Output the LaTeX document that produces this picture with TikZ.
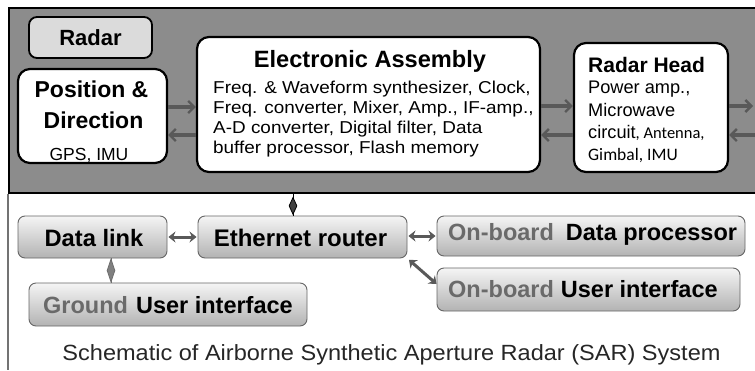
\documentclass[tikz,border=0pt]{standalone}
\usepackage{fontspec}
\setmainfont{Liberation Sans}
\newfontfamily\calfont{Carlito}
\newfontfamily\widefont[FakeStretch=1.1]{Liberation Sans}
\newfontfamily\capfont[FakeStretch=1.07]{Liberation Sans}
\usetikzlibrary{arrows.meta,shapes.geometric}
\definecolor{panelgray}{HTML}{8C8C8C}
\definecolor{arrgray}{HTML}{595959}
\definecolor{boardgray}{HTML}{6A6A6A}
\definecolor{diagray}{HTML}{6E6E6E}
\begin{document}
\begin{tikzpicture}[x=1pt,y=-1pt,
  wbox/.style={draw=black,line width=2.2pt,fill=white,rounded corners=12pt,inner sep=0pt},
  gbox/.style={draw=black!60,line width=0.9pt,top color=black!4,bottom color=black!30,rounded corners=7pt,inner sep=0pt},
  txt/.style={inner sep=0pt,anchor=base west},
  ctxt/.style={inner sep=0pt,anchor=base},
  pairarr/.style={draw=arrgray,line width=3.4pt,-{Straight Barb[length=6pt,width=12pt,line width=2.4pt]}},
  dbl/.style={draw=arrgray,line width=3pt,{Stealth[length=7pt,width=11pt]}-{Stealth[length=7pt,width=11pt]}},
  diamk/.style={diamond,inner sep=0pt,minimum width=8pt,line width=0.8pt},
  hbold/.style={font=\bfseries\fontsize{#1}{#1}\selectfont},
  body/.style={font=\fontsize{#1}{#1}\selectfont}
]
\useasboundingbox (0,0) rectangle (755,370);
\fill[white] (0,0) rectangle (755,370);

% panel
\node[draw=black,line width=2pt,fill=panelgray,minimum width=751pt,minimum height=185pt,inner sep=0pt] (panel) at (384.5,100.5) {};
\draw[black!55,line width=1.2pt] (panel.south west) -- (panel.south west |- 0,370);

% Radar label box
\node[draw=black,line width=1.8pt,fill=black!14,rounded corners=8pt,minimum width=123pt,minimum height=41pt,inner sep=0pt] (radar) at (90.5,37.5) {};
\node[ctxt,hbold=22] (radart) at (90.5,45) {Radar};

% Position & Direction
\node[wbox,minimum width=149pt,minimum height=94pt] (pos) at (92.5,116) {};
\node[ctxt,hbold=23] (pos1) at (91.5,97) {Position \&};
\node[ctxt,hbold=23] (pos2) at (93.5,128) {Direction};
\node[ctxt,body=17.5] (pos3) at (89,160) {GPS, IMU};

% Electronic Assembly
\node[wbox,minimum width=343pt,minimum height=135pt] (ea) at (368.5,104.5) {};
\node[ctxt,hbold=23.6] (eat) at (370,67) {Electronic Assembly};
\node[txt,font=\widefont\fontsize{17.2}{17}\selectfont] (ea1) at (213,93) {Freq. \& Waveform synthesizer, Clock,};
\node[txt,font=\widefont\fontsize{17.2}{17}\selectfont] (ea2) at (213,113) {Freq. converter, Mixer, Amp., IF-amp.,};
\node[txt,font=\widefont\fontsize{17.2}{17}\selectfont] (ea3) at (213,133) {A-D converter, Digital filter, Data};
\node[txt,font=\widefont\fontsize{17.2}{17}\selectfont] (ea4) at (213,153) {buffer processor, Flash memory};

% Radar Head
\node[wbox,minimum width=154pt,minimum height=129pt] (rh) at (651,107.5) {};
\node[txt,hbold=21] (rht) at (588,72) {Radar Head};
\node[txt,body=18.2] (rh1) at (588,93) {Power amp.,};
\node[txt,body=18.2] (rh2) at (588,116) {Microwave};
\node[txt] (rh3) at (588,138) {{\fontsize{18.2}{18}\selectfont circuit}{\calfont\fontsize{16.5}{18}\selectfont , Antenna,}};
\node[txt,font=\calfont\fontsize{17.5}{18}\selectfont] (rh4) at (588,160) {Gimbal, IMU};

% arrows in panel
\coordinate (outR) at (753,106);
\coordinate (inR) at (756,135);
\draw[pairarr] (pos.east |- 0,107) -- (ea.west |- 0,107);
\draw[pairarr] (ea.west |- 0,135) -- (pos.east |- 0,135);
\draw[pairarr] (ea.east |- 0,106) -- (rh.west |- 0,106);
\draw[pairarr] (rh.west |- 0,135) -- (ea.east |- 0,135);
\draw[pairarr] (rh.east |- 0,106) -- (outR);
\draw[pairarr] (inR) -- (rh.east |- 0,135);

% bottom boxes
\node[gbox,minimum width=149pt,minimum height=42pt] (dl) at (92.5,237) {};
\node[ctxt,hbold=23.7] (dlt) at (94,246) {Data link};
\node[gbox,minimum width=209pt,minimum height=42pt] (eth) at (302.5,237) {};
\node[ctxt,hbold=24] (etht) at (300.5,246) {Ethernet router};
\node[gbox,minimum width=308pt,minimum height=40pt] (odp) at (591,236) {};
\node[txt,hbold=23.5] (odpt) at (448,240) {\textcolor{boardgray}{On-board}\hspace{12pt}Data processor};
\node[gbox,minimum width=303pt,minimum height=43pt] (oui) at (588.5,289.5) {};
\node[txt,hbold=23.5] (ouit) at (448,297) {\textcolor{boardgray}{On-board}\hspace{7pt}User interface};
\node[gbox,minimum width=278pt,minimum height=43pt] (gui) at (168,304.5) {};
\node[txt,hbold=23.5] (guit) at (43,313) {\textcolor{boardgray}{Ground}\hspace{8pt}User interface};

% bottom connectors
\draw[dbl,shorten <=1pt,shorten >=1pt] (dl.east) -- (eth.west);
\draw[dbl,shorten <=1pt,shorten >=1pt] (eth.east |- 0,236) -- (odp.west |- 0,236);
\draw[dbl,shorten <=2pt] (eth.south east) -- (oui.west |- 0,284);
\draw[black,line width=1pt] (panel.south -| 293,0) -- node[diamk,draw=black,fill=black!75,minimum height=17pt,pos=0.55] (dm1) {} (eth.north -| 293,0);
\draw[diagray,line width=1pt] (dl.south -| 111,0) -- node[diamk,draw=diagray,fill=black!50,minimum height=23pt] (dm2) {} (gui.north -| 111,0);

% caption
\node[ctxt,font=\capfont\fontsize{22}{24}\selectfont,text=black!85] (cap) at (391.5,360) {Schematic of Airborne Synthetic Aperture Radar (SAR) System};
\end{tikzpicture}
\end{document}
